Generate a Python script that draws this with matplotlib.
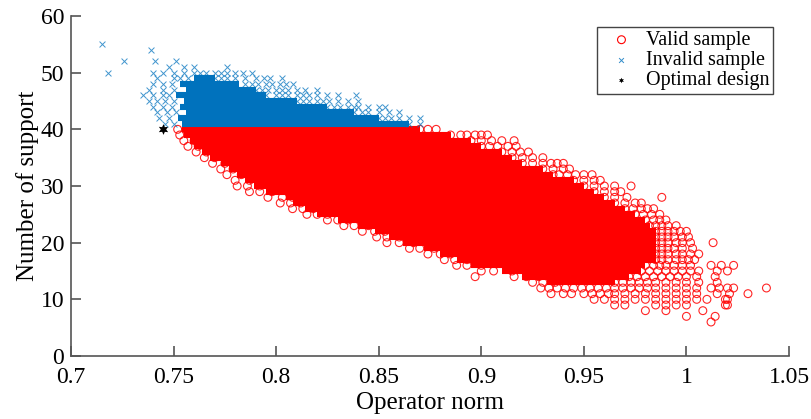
import matplotlib
matplotlib.use('Agg')
import matplotlib.pyplot as plt

plt.rcParams['font.family'] = ['Liberation Serif', 'DejaVu Serif']

# solid part of each cloud: one span of operator norm per support level
valid_levels = [40, 39, 38, 37, 36, 35, 34, 33, 32, 31, 30, 29, 28, 27, 26, 25, 24, 23, 22, 21, 20, 19, 18, 17, 16, 15, 14, 13]
valid_left = [.754, .755, .758, .76, .764, .768, .773, .777, .781, .785, .789, .795, .805, .808, .814, .82, .83, .84, .848, .855, .862, .872, .88, .888, .895, .91, .92, .932]
valid_right = [.87, .885, .895, .90, .91, .915, .92, .93, .935, .945, .95, .955, .96, .965, .97, .975, .98, .982, .985, .985, .985, .985, .985, .985, .98, .978, .972, .965]

invalid_levels = [41, 42, 43, 44, 45, 46, 47, 48, 49]
invalid_left = [.754, .752, .756, .753, .755, .751, .756, .753, .76]
invalid_right = [.865, .85, .838, .825, .81, .795, .79, .782, .77]

# single markers visible around the solid part, one row per level
valid_edge_levels = [40, 39, 38, 37, 36, 35, 34, 33, 32, 31, 30, 29, 28, 27, 26, 25, 24, 23, 22, 21, 20, 19, 18, 17, 16, 15, 14, 13, 12, 11, 10, 9, 8, 7, 6]
valid_edge_x = [
    [.752, .756, .76, .87, .874, .878],
    [.753, .885, .89, .893, .897, .9, .903],
    [.755, .76, .895, .90, .905, .91, .916],
    [.757, .762, .90, .904, .908, .913, .917],
    [.761, .766, .91, .915, .919, .923],
    [.765, .77, .915, .92, .925, .93],
    [.769, .775, .92, .925, .93, .934, .937, .94],
    [.773, .779, .93, .935, .94, .943],
    [.776, .783, .935, .938, .942, .946, .95, .954],
    [.78, .787, .945, .95, .955, .958],
    [.781, .786, .792, .95, .955, .96, .965, .973],
    [.787, .792, .798, .955, .96, .965, .968],
    [.796, .803, .808, .96, .965, .971, .988],
    [.802, .807, .812, .965, .97, .975, .978],
    [.808, .813, .818, .97, .974, .978, .981, .984],
    [.815, .82, .825, .975, .979, .983, .987],
    [.825, .83, .835, .98, .984, .987, .99],
    [.833, .838, .845, .982, .985, .988, .991, .995],
    [.842, .848, .853, .985, .988, .991, .994, .997, 1.0],
    [.849, .854, .86, .985, .988, .991, .994, .998, 1.001],
    [.854, .86, .867, .985, .988, .991, .995, .998, 1.002, 1.013],
    [.865, .87, .877, .985, .988, .991, .994, .998, 1.003],
    [.874, .88, .885, .985, .988, .991, .995, .998, 1.002, 1.006],
    [.882, .887, .893, .985, .988, .991, .995, .998, 1.001, 1.004],
    [.888, .893, .90, .98, .984, .987, .99, .994, .998, 1.002, 1.012, 1.017, 1.023],
    [.90, .906, .915, .978, .982, .986, .99, .994, .998, 1.002, 1.006, 1.015, 1.02],
    [.897, .916, .922, .928, .972, .976, .98, .984, .988, .992, .996, 1.0, 1.005, 1.014],
    [.925, .93, .936, .965, .969, .973, .977, .981, .985, .99, .995, 1.0, 1.006, 1.015],
    [.929, .933, .937, .941, .945, .949, .953, .957, .961, .965, .969, .973, .977, .981, .985, .99, .995, 1.0, 1.005, 1.012, 1.016, 1.02, 1.023, 1.039],
    [.934, .94, .944, .95, .954, .958, .962, .965, .97, .975, .98, .985, .99, .995, 1.0, 1.005, 1.015, 1.021, 1.03],
    [.955, .96, .965, .97, .975, .98, .985, .99, .995, 1.0, 1.005, 1.01, 1.019, 1.02],
    [.965, .97, .985, .99, .995, 1.0, 1.019, 1.02],
    [.98, .99, 1.008],
    [1.0, 1.014],
    [1.012],
]

invalid_edge_levels = [55, 54, 52, 51, 50, 49, 48, 47, 46, 45, 44, 43, 42, 41]
invalid_edge_x = [
    [.715],
    [.739],
    [.726, .741, .751],
    [.748, .755, .76, .776],
    [.718, .74, .745, .75, .755, .76, .763, .766, .77, .773, .776, .78, .784, .788],
    [.742, .75, .753, .757, .77, .773, .776, .78, .785, .79, .794, .797, .803],
    [.74, .745, .749, .785, .788, .791, .795, .798, .802, .805, .808],
    [.738, .745, .75, .79, .793, .796, .80, .803, .806, .81, .814, .82],
    [.735, .74, .745, .748, .795, .80, .803, .806, .81, .813, .816, .82, .825, .83, .839],
    [.738, .742, .746, .75, .81, .813, .816, .82, .823, .826, .83, .835, .84],
    [.74, .745, .749, .825, .828, .831, .835, .838, .84, .845, .85, .853],
    [.742, .747, .751, .838, .842, .845, .85, .855, .86],
    [.743, .748, .85, .853, .856, .86, .865, .87],
    [.746, .75, .865, .87],
]

optimal_x = [.745]
optimal_y = [40]

x_ticks = [0.7, 0.75, 0.8, 0.85, 0.9, 0.95, 1, 1.05]
x_tick_labels = ['0.7', '0.75', '0.8', '0.85', '0.9', '0.95', '1', '1.05']
y_ticks = [0, 10, 20, 30, 40, 50, 60]

RED = '#ff0000'
BLUE = '#0072bd'
AXIS = '#555555'


def flatten_rows(levels, rows):
    """Turn per-level rows of x values into matching x and y lists."""
    xs, ys = [], []
    for level, row in zip(levels, rows):
        for x in row:
            xs.append(x)
            ys.append(level)
    return xs, ys


fig = plt.figure(figsize=(8.12, 4.19), dpi=100)
ax = fig.add_axes([71 / 812, 63 / 419, 718 / 812, 340 / 419])

# red cloud
ax.hlines(valid_levels, valid_left, valid_right, color=RED, linewidth=4.4, zorder=2)
vx, vy = flatten_rows(valid_edge_levels, valid_edge_x)
ax.scatter(vx, vy, s=32, marker='o', facecolors='none', edgecolors=RED, linewidths=0.8, alpha=0.85, zorder=3)

# blue cloud sits on top of the red one
ax.hlines(invalid_levels, invalid_left, invalid_right, color=BLUE, linewidth=4.4, zorder=4)
ix, iy = flatten_rows(invalid_edge_levels, invalid_edge_x)
ax.scatter(ix, iy, s=18, marker='x', color=BLUE, linewidths=0.7, alpha=0.75, zorder=5)

ax.scatter(optimal_x, optimal_y, s=60, marker=(6, 1, 0), color='black', linewidths=0, zorder=6)

ax.set_xlim(0.7, 1.05)
ax.set_ylim(0, 60)
ax.set_xticks(x_ticks)
ax.set_xticklabels(x_tick_labels)
ax.set_yticks(y_ticks)
ax.tick_params(axis='both', direction='in', length=7, width=1.2, color=AXIS, labelsize=17)
ax.tick_params(axis='x', pad=8)
ax.tick_params(axis='y', pad=5)
ax.spines['top'].set_visible(False)
ax.spines['right'].set_visible(False)
ax.spines['left'].set_linewidth(1.2)
ax.spines['bottom'].set_linewidth(1.2)
ax.spines['left'].set_color(AXIS)
ax.spines['bottom'].set_color(AXIS)
ax.set_xlabel('Operator norm', fontsize=18, labelpad=3)
ax.set_ylabel('Number of support', fontsize=18, labelpad=1)

# legend proxies
h1 = ax.scatter([], [], s=32, marker='o', facecolors='none', edgecolors=RED, linewidths=0.8)
h2 = ax.scatter([], [], s=12, marker='x', color=BLUE, linewidths=0.7, alpha=0.8)
h3 = ax.scatter([], [], s=16, marker=(6, 1, 0), color='black', linewidths=0)
leg = ax.legend([h1, h2, h3], ['Valid sample', 'Invalid sample', 'Optimal design'],
                loc='upper left', bbox_to_anchor=(0.733, 0.968), fontsize=14.5,
                fancybox=False, framealpha=1, edgecolor='#444444', borderpad=0.2,
                labelspacing=0.05, handletextpad=0.2, borderaxespad=0)
leg.get_frame().set_linewidth(1.0)

fig.savefig('out.png', dpi=100)
